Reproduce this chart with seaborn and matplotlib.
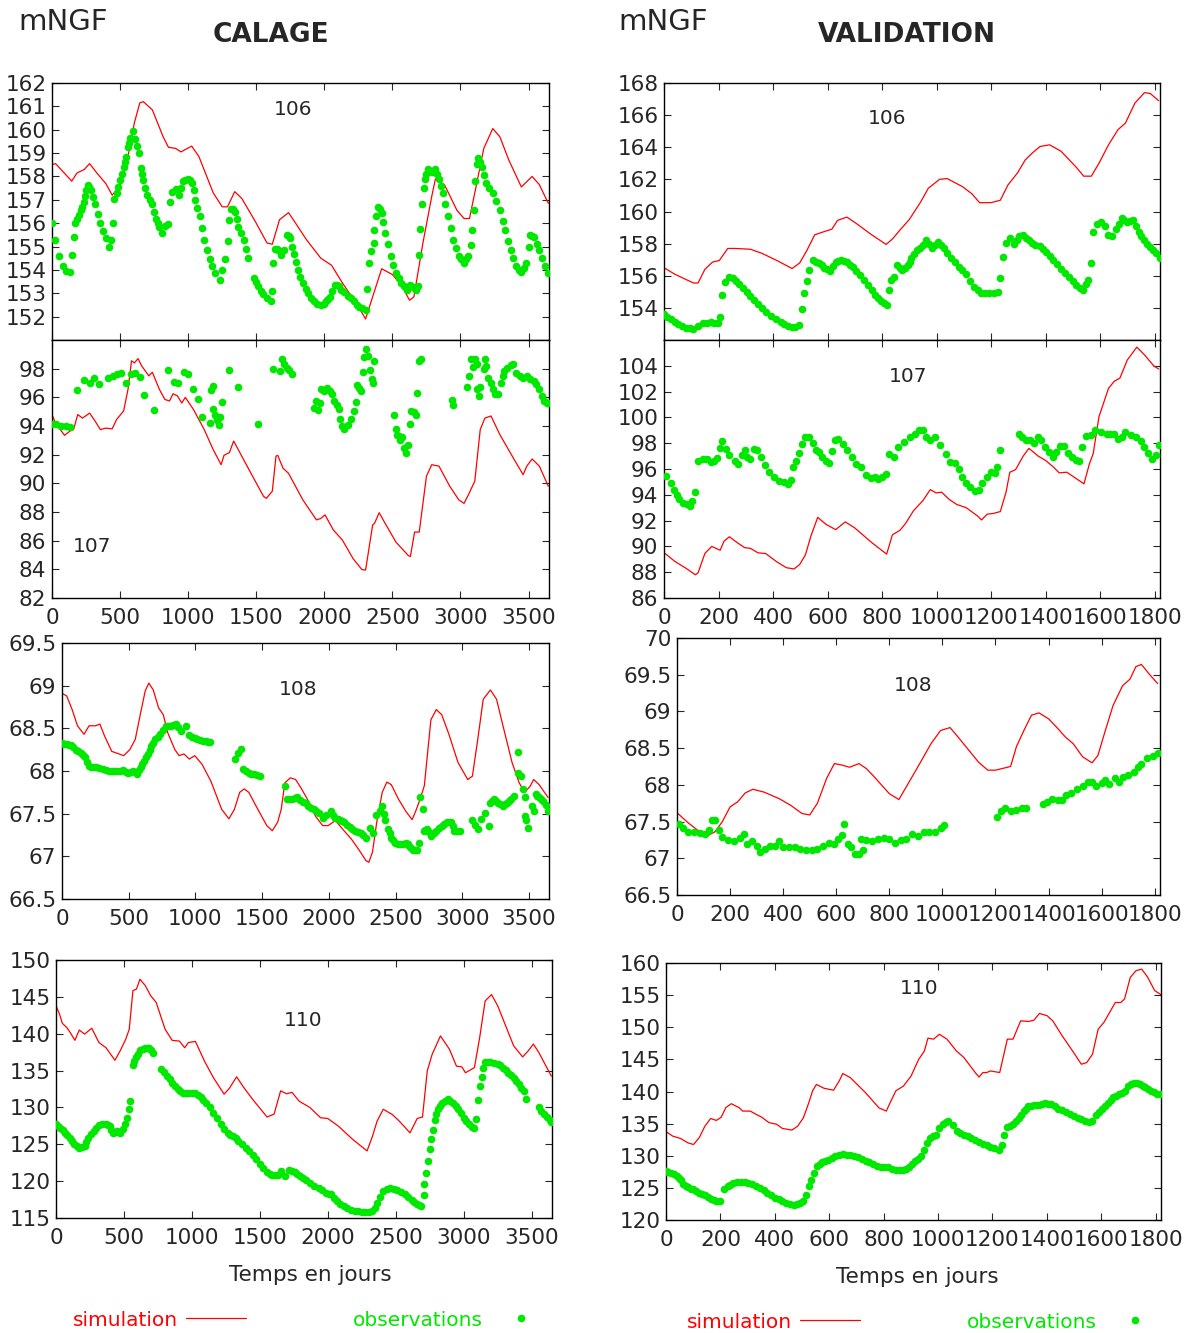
import matplotlib
matplotlib.use("Agg")
import matplotlib.pyplot as plt
from matplotlib.lines import Line2D
import seaborn as sns

RED = "#ff0000"
GREEN = "#00e800"

# ---- CALAGE (0 - 3650 days) ----
cal106_sim = [(0, 158.5), (26, 158.55), (145, 157.8), (184, 158.15), (237, 158.3), (276, 158.55), (329, 158.15),
              (395, 157.7), (442, 157.2), (500, 157.6), (553, 158.7), (605, 160.3), (645, 161.15), (671, 161.2),
              (737, 160.85), (816, 159.7), (855, 159.25), (908, 159.2), (947, 159.05), (1026, 159.3), (1079, 158.85),
              (1184, 157.3), (1250, 156.7), (1289, 156.7), (1342, 157.35), (1395, 157.05), (1500, 156.0),
              (1579, 155.15), (1618, 155.1), (1671, 156.15), (1737, 156.45), (1789, 156.0), (1868, 155.3),
              (1974, 154.5), (2053, 154.2), (2132, 153.45), (2237, 152.55), (2303, 151.9), (2355, 152.85),
              (2421, 154.05), (2500, 153.8), (2566, 153.35), (2626, 152.7), (2658, 152.85), (2724, 155.15),
              (2789, 157.15), (2816, 157.9), (2882, 157.65), (2974, 156.55), (3026, 156.2), (3066, 156.2),
              (3105, 157.3), (3171, 159.2), (3237, 160.05), (3289, 159.7), (3355, 158.7), (3447, 157.55),
              (3526, 158.0), (3579, 157.65), (3645, 156.85)]
cal106_obs = [(0, 156.0), (21, 155.3), (53, 154.6), (79, 154.15), (105, 153.95), (132, 153.9),
              (145, 154.65), (158, 155.4), (166, 156.0), (184, 156.2), (197, 156.35), (211, 156.55), (222, 156.7),
              (232, 156.9), (241, 157.15), (250, 157.4), (263, 157.65), (274, 157.55), (284, 157.4), (300, 157.1),
              (316, 156.8), (335, 156.4), (355, 156.0), (375, 155.65), (395, 155.35), (421, 155.0), (434, 155.3),
              (447, 156.0), (453, 157.05), (474, 157.3), (487, 157.55), (500, 157.85), (513, 158.1), (526, 158.4),
              (537, 158.6), (547, 158.85), (558, 159.25), (566, 159.45), (574, 159.65), (592, 159.95), (611, 159.6),
              (624, 159.3), (637, 159.0), (653, 158.35), (662, 158.1), (671, 157.85), (684, 157.5), (697, 157.2),
              (718, 157.0), (737, 156.8), (750, 156.5), (763, 156.2), (776, 156.0), (789, 155.85), (811, 155.6),
              (829, 155.9), (855, 155.95), (863, 156.9), (882, 157.35), (908, 157.45), (934, 157.2), (948, 157.5),
              (961, 157.8), (980, 157.85), (1000, 157.9), (1013, 157.85), (1026, 157.7), (1040, 157.4),
              (1053, 157.0), (1068, 156.65), (1084, 156.3), (1100, 155.8), (1118, 155.3), (1138, 154.85),
              (1158, 154.45), (1178, 154.15), (1197, 153.85), (1232, 153.55), (1250, 154.0), (1268, 154.45),
              (1289, 155.25), (1303, 156.15), (1316, 156.6), (1329, 156.6), (1342, 156.5), (1355, 156.2),
              (1368, 155.85), (1388, 155.6), (1408, 155.3), (1425, 154.9), (1442, 154.5),
              (1482, 153.65), (1497, 153.5), (1513, 153.3), (1533, 153.1), (1553, 152.95), (1580, 152.8),
              (1605, 152.65), (1618, 153.1), (1626, 154.3), (1637, 154.9), (1650, 154.9), (1663, 154.85),
              (1684, 154.65), (1705, 154.85), (1724, 155.5), (1737, 155.45), (1750, 155.35), (1763, 155.0),
              (1776, 154.7), (1790, 154.35), (1803, 154.0), (1822, 153.7), (1842, 153.45), (1862, 153.2),
              (1882, 153.0), (1900, 152.8), (1921, 152.65), (1947, 152.55), (1974, 152.5), (1994, 152.55),
              (2013, 152.65), (2026, 152.75), (2039, 152.85), (2059, 153.1), (2079, 153.35), (2092, 153.35),
              (2105, 153.3), (2125, 153.15), (2145, 153.05), (2171, 152.9), (2197, 152.8), (2217, 152.65),
              (2237, 152.5), (2256, 152.4), (2276, 152.35), (2303, 152.3), (2316, 153.2), (2329, 154.3),
              (2342, 154.8), (2363, 155.15), (2368, 155.7), (2382, 156.3), (2395, 156.7), (2408, 156.6),
              (2421, 156.45), (2434, 156.05), (2447, 155.6), (2467, 155.1), (2487, 154.6), (2506, 154.2),
              (2526, 153.85), (2546, 153.65), (2566, 153.45), (2585, 153.3), (2605, 153.15), (2632, 153.35),
              (2650, 153.25), (2671, 153.15), (2689, 153.3), (2697, 154.65), (2705, 155.75), (2716, 156.8),
              (2729, 157.5), (2737, 157.9), (2750, 158.1), (2763, 158.3), (2776, 158.25), (2789, 158.2),
              (2803, 158.25), (2816, 158.3), (2829, 158.1), (2842, 157.9), (2855, 157.6), (2868, 157.3),
              (2888, 156.8), (2908, 156.3), (2928, 155.8), (2947, 155.3), (2967, 154.95), (2987, 154.6),
              (3006, 154.45), (3026, 154.3), (3042, 154.45), (3058, 154.6), (3079, 155.05), (3084, 155.7),
              (3097, 156.55), (3105, 157.8), (3118, 158.55), (3132, 158.8), (3145, 158.6), (3158, 158.4),
              (3171, 158.05), (3184, 157.7), (3210, 157.5), (3237, 157.3), (3263, 156.95), (3289, 156.55),
              (3309, 156.1), (3329, 155.7), (3349, 155.25), (3368, 154.85), (3388, 154.5), (3408, 154.15),
              (3428, 154.0), (3447, 153.9), (3463, 154.1), (3479, 154.3), (3500, 155.0), (3513, 155.5),
              (3526, 155.45), (3539, 155.4), (3559, 155.1), (3579, 154.85), (3598, 154.5), (3618, 154.15),
              (3645, 153.85)]

cal107_sim = [(0, 94.8), (26, 94.2), (92, 93.35), (132, 93.65), (158, 93.75), (189, 94.8), (224, 94.55),
              (276, 94.9), (316, 94.35), (355, 93.75), (395, 93.85), (442, 93.8), (474, 94.45), (526, 95.05),
              (558, 96.55), (584, 98.55), (605, 98.4), (632, 98.7), (658, 98.2), (711, 97.5), (737, 97.75),
              (789, 96.55), (829, 95.85), (863, 95.75), (889, 96.25), (921, 96.1), (953, 95.6), (979, 96.0),
              (1039, 95.15), (1118, 93.75), (1184, 92.35), (1242, 91.3), (1263, 91.95), (1303, 92.15),
              (1334, 92.95), (1382, 92.1), (1447, 90.95), (1553, 89.1), (1574, 88.95), (1618, 89.45),
              (1645, 91.9), (1658, 91.95), (1697, 91.05), (1737, 90.7), (1842, 88.85), (1942, 87.45),
              (1974, 87.55), (2005, 87.8), (2066, 86.75), (2132, 86.05), (2211, 84.75), (2276, 83.98),
              (2303, 83.95), (2355, 87.1), (2368, 87.2), (2403, 87.95), (2447, 87.2), (2526, 85.9),
              (2618, 84.95), (2632, 84.9), (2663, 86.6), (2697, 86.6), (2750, 90.5), (2789, 91.3),
              (2842, 91.2), (2921, 89.8), (2987, 88.85), (3026, 88.6), (3058, 89.2), (3105, 90.15),
              (3145, 93.75), (3179, 94.55), (3224, 94.7), (3289, 93.4), (3395, 91.65), (3460, 90.6),
              (3487, 91.2), (3526, 91.7), (3579, 91.2), (3645, 89.8)]
cal107_obs = [(0, 94.15), (26, 94.15), (66, 94.0), (100, 94.0), (132, 93.95), (184, 96.5), (232, 97.2),
              (276, 97.0), (311, 97.35), (347, 96.95), (408, 97.35), (447, 97.5), (479, 97.6), (505, 97.7),
              (545, 97.0), (579, 97.65), (613, 97.7), (645, 97.45), (674, 96.15), (750, 95.15), (855, 97.9),
              (895, 97.1), (929, 97.0), (966, 97.8), (1000, 97.6), (1039, 96.6), (1074, 95.9), (1105, 94.65),
              (1158, 94.2), (1166, 96.5), (1179, 96.8), (1184, 95.2), (1197, 94.8), (1211, 94.45), (1224, 94.05),
              (1237, 94.65), (1245, 95.65), (1303, 97.9), (1363, 96.7), (1513, 94.15), (1626, 97.95),
              (1671, 97.85), (1689, 98.65), (1705, 98.3), (1724, 98.05), (1742, 97.9), (1763, 97.65),
              (1926, 95.25), (1939, 95.75), (1953, 95.15), (1966, 95.6), (1974, 96.6), (2000, 96.45),
              (2021, 96.65), (2039, 96.45), (2058, 96.2), (2074, 95.75), (2092, 95.5), (2105, 95.2),
              (2118, 94.5), (2132, 94.0), (2145, 93.8), (2171, 94.1), (2197, 94.5), (2216, 95.05), (2229, 95.65),
              (2237, 96.85), (2258, 96.65), (2271, 96.45), (2284, 97.8), (2295, 98.8), (2308, 99.35),
              (2321, 98.9), (2334, 97.9), (2347, 97.25), (2355, 97.0), (2363, 98.55),
              (2513, 94.75), (2526, 93.8), (2534, 93.4), (2547, 93.3), (2558, 93.05), (2574, 93.25),
              (2587, 92.45), (2597, 92.1), (2613, 92.7), (2626, 94.15), (2639, 95.05), (2658, 95.0),
              (2676, 94.75), (2684, 96.3), (2697, 98.55), (2711, 98.7), (2934, 95.8), (2947, 95.45),
              (3047, 96.75), (3066, 97.5), (3074, 98.65), (3092, 98.1), (3105, 98.65), (3118, 98.35),
              (3124, 96.6), (3137, 96.1), (3145, 96.7), (3171, 98.0), (3179, 98.7), (3189, 98.2), (3205, 97.35),
              (3224, 97.0), (3242, 96.55), (3253, 96.2), (3276, 96.25), (3295, 97.0), (3311, 97.5),
              (3321, 97.85), (3342, 98.05), (3368, 98.25), (3389, 98.3), (3408, 97.7), (3434, 97.5),
              (3460, 97.35), (3487, 97.5), (3513, 97.3), (3539, 97.15), (3558, 96.9), (3579, 96.55),
              (3600, 96.1), (3611, 95.75), (3632, 95.6), (3645, 95.6)]

cal108_sim = [(0, 68.91), (35, 68.88), (76, 68.72), (116, 68.53), (165, 68.43), (203, 68.53), (251, 68.53),
              (284, 68.55), (319, 68.41), (373, 68.23), (427, 68.2), (462, 68.18), (508, 68.25), (549, 68.37),
              (589, 68.68), (624, 68.94), (651, 69.03), (684, 68.95), (724, 68.74), (759, 68.66), (792, 68.45),
              (846, 68.25), (878, 68.18), (914, 68.2), (954, 68.14), (995, 68.18), (1049, 68.08), (1116, 67.88),
              (1197, 67.55), (1251, 67.44), (1292, 67.55), (1332, 67.75), (1365, 67.79), (1400, 67.75),
              (1468, 67.55), (1535, 67.36), (1576, 67.3), (1616, 67.4), (1643, 67.55), (1670, 67.86),
              (1711, 67.92), (1751, 67.9), (1792, 67.8), (1846, 67.65), (1900, 67.47), (1954, 67.36),
              (1995, 67.36), (2049, 67.42), (2103, 67.32), (2170, 67.2), (2224, 67.08), (2278, 66.95),
              (2300, 66.93), (2327, 67.05), (2359, 67.4), (2400, 67.75), (2435, 67.87), (2468, 67.84),
              (2522, 67.67), (2576, 67.53), (2624, 67.43), (2651, 67.53), (2684, 67.67), (2716, 67.83),
              (2738, 68.18), (2765, 68.6), (2805, 68.72), (2846, 68.66), (2900, 68.43), (2968, 68.1),
              (3041, 67.9), (3076, 67.94), (3116, 68.37), (3157, 68.84), (3211, 68.95), (3257, 68.84),
              (3305, 68.53), (3373, 68.1), (3427, 67.86), (3468, 67.75), (3508, 67.82), (3535, 67.9),
              (3576, 67.84), (3616, 67.75), (3643, 67.69)]
cal108_obs = [(0, 68.33), (18, 68.32), (35, 68.32), (52, 68.31), (68, 68.31), (86, 68.28), (103, 68.25),
              (123, 68.23), (143, 68.21), (157, 68.19), (170, 68.16), (186, 68.1), (203, 68.06), (220, 68.05),
              (238, 68.05), (258, 68.05), (278, 68.04), (305, 68.02), (332, 68.01), (352, 68.0), (373, 68.0),
              (394, 68.0), (414, 68.0), (437, 68.0), (459, 68.01), (477, 67.99), (495, 67.98), (515, 67.99),
              (535, 68.0), (562, 67.97), (575, 68.01), (589, 68.05), (603, 68.08), (616, 68.12), (630, 68.16),
              (643, 68.2), (657, 68.25), (670, 68.29), (684, 68.33), (697, 68.37), (717, 68.4), (738, 68.43),
              (758, 68.48), (778, 68.53), (799, 68.53), (819, 68.53), (835, 68.54), (851, 68.55), (873, 68.51),
              (895, 68.47), (932, 68.53), (954, 68.42), (975, 68.4), (995, 68.39), (1015, 68.37),
              (1035, 68.36), (1056, 68.35), (1076, 68.35), (1092, 68.34), (1108, 68.34),
              (1300, 68.14), (1319, 68.21), (1341, 68.26), (1359, 68.02), (1380, 68.0), (1400, 67.98),
              (1420, 67.97), (1441, 67.96), (1461, 67.95), (1481, 67.94),
              (1670, 67.82), (1684, 67.67), (1704, 67.67), (1724, 67.67), (1745, 67.68), (1765, 67.69),
              (1785, 67.66), (1805, 67.64), (1826, 67.62), (1846, 67.59), (1866, 67.57), (1886, 67.55),
              (1907, 67.53), (1927, 67.51), (1954, 67.45), (1981, 67.49), (2014, 67.53), (2031, 67.49),
              (2049, 67.45), (2066, 67.44), (2084, 67.42), (2100, 67.41), (2116, 67.4), (2137, 67.37),
              (2157, 67.34), (2177, 67.32), (2197, 67.3), (2218, 67.28), (2238, 67.27), (2258, 67.25),
              (2278, 67.22), (2305, 67.33), (2332, 67.27), (2354, 67.49), (2381, 67.53), (2400, 67.59),
              (2411, 67.5), (2422, 67.43), (2441, 67.32), (2455, 67.27), (2468, 67.22), (2482, 67.19),
              (2495, 67.16), (2515, 67.15), (2535, 67.14), (2556, 67.15), (2576, 67.16), (2590, 67.14),
              (2603, 67.12), (2616, 67.1), (2630, 67.08), (2644, 67.07), (2657, 67.07), (2676, 67.16),
              (2684, 67.69), (2703, 67.55), (2711, 67.3), (2724, 67.31), (2738, 67.32), (2751, 67.28),
              (2765, 67.24), (2785, 67.27), (2805, 67.3), (2826, 67.33), (2846, 67.36), (2866, 67.38),
              (2886, 67.4), (2900, 67.4), (2914, 67.4), (2927, 67.35), (2941, 67.3), (2961, 67.3),
              (2981, 67.3), (3076, 67.42), (3096, 67.37), (3116, 67.32), (3143, 67.44), (3170, 67.51),
              (3197, 67.36), (3211, 67.63), (3224, 67.65), (3238, 67.67), (3251, 67.65), (3265, 67.63),
              (3285, 67.61), (3305, 67.59), (3319, 67.61), (3332, 67.63), (3349, 67.65), (3365, 67.67),
              (3386, 67.71), (3414, 68.22), (3419, 67.98), (3441, 67.94), (3454, 67.79), (3468, 67.69),
              (3473, 67.47), (3481, 67.43), (3495, 67.33), (3522, 67.59), (3535, 67.53), (3549, 67.73),
              (3562, 67.71), (3576, 67.69), (3590, 67.67), (3603, 67.65), (3624, 67.6), (3643, 67.53)]

cal110_sim = [(0, 143.8), (26, 142.65), (47, 141.4), (79, 140.85), (105, 140.15), (139, 139.1), (171, 140.5),
              (211, 139.95), (263, 140.75), (316, 138.8), (368, 138.1), (434, 136.4), (474, 137.75),
              (513, 139.25), (539, 140.6), (566, 145.85), (592, 146.05), (618, 147.4), (658, 146.5),
              (697, 145.15), (737, 144.25), (803, 140.6), (855, 139.1), (908, 139.0), (947, 138.1),
              (974, 138.8), (1026, 138.95), (1092, 136.3), (1158, 134.05), (1237, 131.8), (1276, 132.6),
              (1329, 134.15), (1382, 132.7), (1447, 131.1), (1553, 128.7), (1605, 129.1), (1653, 132.25),
              (1697, 131.85), (1737, 132.05), (1789, 130.85), (1868, 130.0), (1947, 128.6), (2000, 128.5),
              (2079, 127.45), (2184, 125.65), (2289, 124.1), (2329, 126.1), (2363, 128.15), (2408, 129.75),
              (2474, 129.05), (2526, 128.15), (2605, 126.55), (2658, 128.5), (2697, 128.7), (2732, 134.95),
              (2768, 137.2), (2829, 139.7), (2895, 137.9), (2947, 135.6), (2987, 135.5), (3013, 134.7),
              (3079, 135.4), (3118, 139.5), (3158, 144.45), (3205, 145.3), (3250, 143.8), (3329, 140.15),
              (3368, 138.35), (3434, 136.85), (3474, 137.65), (3513, 138.6), (3553, 137.45), (3645, 134.25)]
cal110_obs = [(0, 127.7), (16, 127.5), (32, 127.25), (49, 126.9), (66, 126.55), (83, 126.2), (100, 125.9),
              (116, 125.5), (132, 125.1), (151, 124.8), (171, 124.5), (191, 124.6), (211, 124.75), (224, 125.3),
              (237, 125.9), (256, 126.35), (276, 126.8), (296, 127.2), (316, 127.6), (342, 127.7), (368, 127.7),
              (382, 127.6), (395, 127.45), (408, 127.0), (421, 126.55), (434, 126.7), (447, 126.8), (461, 126.7),
              (474, 126.55), (490, 127.1), (505, 127.7), (521, 128.6), (534, 129.8), (545, 130.85),
              (566, 135.75), (576, 136.3), (587, 136.85), (603, 137.3), (618, 137.75), (638, 137.9), (658, 138.1),
              (671, 138.1), (684, 138.1), (697, 137.8), (711, 137.45),
              (776, 135.2), (796, 134.75), (816, 134.3), (836, 133.8), (855, 133.35), (875, 132.9),
              (895, 132.5), (915, 132.25), (934, 132.0), (954, 131.95), (974, 131.9), (1000, 131.9),
              (1026, 131.9), (1046, 131.65), (1066, 131.4), (1085, 131.05), (1105, 130.65), (1132, 130.0),
              (1158, 129.3), (1184, 128.5), (1211, 127.7), (1237, 127.1), (1263, 126.55), (1283, 126.3),
              (1303, 126.1), (1322, 125.8), (1342, 125.45), (1368, 125.0), (1395, 124.5), (1421, 124.05),
              (1447, 123.6), (1474, 123.0), (1500, 122.35), (1526, 121.75), (1553, 121.2), (1572, 121.0),
              (1592, 120.9), (1612, 120.9), (1632, 120.9), (1658, 121.35), (1684, 120.7), (1711, 121.55),
              (1737, 121.35), (1756, 121.2), (1776, 121.0), (1796, 120.75), (1816, 120.45), (1842, 120.1),
              (1868, 119.75), (1901, 119.4), (1934, 119.1), (1960, 118.75), (1987, 118.4), (2006, 118.3),
              (2026, 118.2), (2046, 117.7), (2066, 117.25), (2092, 116.9), (2118, 116.6), (2145, 116.35),
              (2171, 116.15), (2197, 116.0), (2224, 115.9), (2250, 115.85), (2276, 115.8), (2303, 115.85),
              (2329, 115.9), (2346, 116.4), (2363, 117.05), (2386, 117.9), (2408, 118.65), (2434, 118.9),
              (2461, 119.1), (2487, 119.0), (2513, 118.85), (2540, 118.55), (2566, 118.2), (2592, 117.85),
              (2618, 117.5), (2638, 117.2), (2658, 116.9), (2674, 116.75), (2689, 116.6), (2705, 118.1),
              (2711, 119.6), (2724, 121.1), (2737, 122.7), (2750, 124.3), (2763, 125.65), (2776, 127.0),
              (2789, 128.35), (2800, 129.1), (2811, 129.75), (2826, 130.2), (2842, 130.65), (2862, 130.9),
              (2882, 131.1), (2901, 130.9), (2921, 130.65), (2941, 130.2), (2961, 129.75), (2980, 129.2),
              (3000, 128.6), (3020, 128.15), (3039, 127.7), (3059, 127.4), (3079, 127.15), (3092, 128.4),
              (3105, 130.95), (3118, 132.9), (3132, 134.15), (3145, 135.3), (3158, 136.2), (3178, 136.15),
              (3197, 136.1), (3224, 136.0), (3250, 135.95), (3270, 135.7), (3289, 135.4), (3309, 135.05),
              (3329, 134.7), (3349, 134.4), (3368, 134.05), (3388, 133.6), (3408, 133.2), (3425, 132.7),
              (3442, 132.2), (3461, 131.2), (3553, 130.05), (3572, 129.55), (3592, 129.05), (3612, 128.65),
              (3632, 128.25), (3645, 128.05)]

# ---- VALIDATION (0 - 1820 days) ----
val106_sim = [(0, 156.5), (39, 156.1), (108, 155.55), (125, 155.55), (150, 156.4), (178, 156.85), (203, 156.95),
              (234, 157.7), (261, 157.7), (317, 157.65), (359, 157.4), (414, 156.95), (470, 156.45),
              (498, 156.8), (525, 157.6), (553, 158.55), (588, 158.75), (616, 158.9), (637, 159.45),
              (671, 159.65), (706, 159.25), (762, 158.55), (815, 157.95), (839, 158.3), (866, 158.85),
              (900, 159.5), (942, 160.6), (970, 161.45), (1011, 162.0), (1039, 162.05), (1095, 161.55),
              (1130, 161.1), (1158, 160.55), (1200, 160.55), (1234, 160.7), (1262, 161.65), (1297, 162.4),
              (1325, 163.2), (1352, 163.65), (1380, 164.05), (1415, 164.15), (1457, 163.75), (1513, 162.75),
              (1540, 162.2), (1568, 162.2), (1596, 163.0), (1631, 164.15), (1666, 165.1), (1693, 165.5),
              (1728, 166.75), (1763, 167.4), (1784, 167.35), (1815, 166.9)]
val106_obs = [(0, 153.6), (12, 153.45), (25, 153.3), (39, 153.15), (53, 153.0), (67, 152.87), (81, 152.75),
              (95, 152.72), (108, 152.7), (125, 152.9), (143, 153.05), (157, 153.08), (171, 153.1),
              (185, 153.08), (199, 153.05), (206, 153.45), (214, 154.8), (224, 155.6), (240, 155.95),
              (254, 155.85), (265, 155.68), (275, 155.5), (289, 155.25), (303, 155.0), (317, 154.75),
              (331, 154.5), (345, 154.25), (359, 154.0), (376, 153.75), (393, 153.5), (410, 153.3),
              (428, 153.1), (442, 152.97), (456, 152.85), (468, 152.82), (481, 152.8), (495, 152.95),
              (505, 153.9), (514, 154.95), (523, 155.7), (532, 156.35), (546, 156.95), (557, 156.88),
              (567, 156.8), (578, 156.65), (588, 156.5), (599, 156.4), (609, 156.3), (620, 156.58),
              (630, 156.85), (640, 156.93), (651, 157.0), (661, 156.93), (671, 156.85), (682, 156.7),
              (692, 156.55), (706, 156.3), (720, 156.05), (734, 155.73), (748, 155.4), (762, 155.1),
              (776, 154.8), (786, 154.6), (796, 154.4), (806, 154.3), (817, 154.2),
              (824, 155.1), (834, 155.75), (845, 155.95), (856, 156.65), (866, 156.5), (873, 156.35),
              (884, 156.5), (894, 156.65), (901, 156.88), (908, 157.1), (918, 157.35), (929, 157.6),
              (940, 157.75), (950, 157.9), (963, 158.2), (974, 157.98), (984, 157.75), (995, 157.93),
              (1005, 158.1), (1016, 157.9), (1026, 157.7), (1040, 157.4), (1054, 157.1), (1068, 156.83),
              (1082, 156.55), (1095, 156.33), (1109, 156.1), (1123, 155.7), (1137, 155.3), (1151, 155.12),
              (1165, 154.95), (1179, 154.92), (1193, 154.9), (1210, 154.95), (1227, 155.0),
              (1234, 155.85), (1245, 157.15), (1255, 158.05), (1269, 158.35), (1283, 158.0), (1294, 158.22),
              (1304, 158.45), (1318, 158.55), (1329, 158.38), (1339, 158.2), (1350, 158.05), (1360, 157.9),
              (1381, 157.85), (1392, 157.68), (1402, 157.5), (1416, 157.25), (1429, 157.0), (1443, 156.73),
              (1457, 156.45), (1471, 156.18), (1485, 155.9), (1499, 155.65), (1513, 155.4), (1526, 155.25),
              (1538, 155.1), (1547, 155.5), (1554, 155.75), (1565, 156.8),
              (1575, 158.75), (1589, 159.25), (1603, 159.35), (1617, 159.1), (1631, 158.55), (1645, 158.5),
              (1659, 158.9), (1669, 159.25), (1679, 159.6), (1689, 159.48), (1700, 159.35), (1710, 159.4),
              (1721, 159.45), (1731, 159.1), (1742, 158.75), (1752, 158.48), (1763, 158.2), (1773, 158.0),
              (1784, 157.8), (1794, 157.6), (1805, 157.4), (1819, 157.1)]

val107_sim = [(4, 89.45), (39, 88.85), (81, 88.3), (115, 87.8), (125, 87.95), (150, 89.45), (175, 90.0),
              (206, 89.7), (220, 90.4), (240, 90.75), (268, 90.3), (296, 89.9), (317, 89.85), (345, 89.5),
              (373, 89.45), (414, 88.8), (449, 88.35), (477, 88.25), (498, 88.6), (519, 89.35), (539, 90.8),
              (564, 92.25), (595, 91.7), (630, 91.3), (665, 91.9), (699, 91.45), (762, 90.3), (817, 89.4),
              (838, 90.9), (866, 91.25), (887, 91.8), (915, 92.75), (950, 93.55), (977, 94.4), (998, 94.15),
              (1019, 94.2), (1046, 93.65), (1074, 93.25), (1109, 93.0), (1151, 92.35), (1165, 92.05),
              (1186, 92.5), (1207, 92.55), (1234, 92.7), (1255, 94.2), (1269, 95.75), (1290, 95.95),
              (1318, 97.0), (1339, 97.6), (1373, 97.0), (1401, 96.65), (1429, 96.15), (1450, 95.7),
              (1478, 95.75), (1506, 95.35), (1541, 94.85), (1561, 96.4), (1575, 97.2), (1596, 100.05),
              (1631, 102.25), (1652, 102.8), (1673, 103.05), (1700, 104.45), (1735, 105.45), (1763, 104.85),
              (1797, 104.0), (1815, 103.75)]
val107_obs = [(8, 95.45), (25, 94.9), (36, 94.4), (46, 94.0), (56, 93.65), (70, 93.4), (83, 93.25),
              (97, 93.15), (104, 93.55), (114, 94.2), (125, 96.6), (143, 96.8), (157, 96.8), (171, 96.55),
              (182, 96.6), (195, 96.85), (206, 97.65), (213, 98.2), (227, 97.55), (240, 97.05), (259, 96.65),
              (272, 96.4), (286, 97.1), (296, 97.45), (306, 96.95), (317, 96.8), (331, 97.55), (342, 97.5),
              (356, 96.95), (370, 96.3), (386, 95.75), (403, 95.35), (421, 95.05), (442, 95.0), (456, 94.8),
              (467, 95.15), (473, 96.15), (484, 96.65), (495, 97.25), (505, 97.95), (518, 98.45), (532, 98.5),
              (546, 98.05), (556, 97.5), (570, 97.3), (581, 96.9), (595, 96.6), (606, 96.45), (616, 97.4),
              (626, 98.25), (639, 98.3), (657, 97.9), (671, 97.5), (689, 96.95), (706, 96.35), (723, 96.15),
              (741, 95.55), (759, 95.3), (776, 95.4), (787, 95.2), (801, 95.4), (813, 95.6),
              (824, 97.15), (845, 96.95), (859, 97.7), (880, 98.1), (901, 98.5), (922, 98.7), (935, 99.05),
              (949, 99.05), (963, 98.5), (977, 98.25), (995, 98.5), (1012, 97.85), (1033, 97.15),
              (1051, 96.55), (1067, 96.45), (1084, 96.0), (1095, 95.35), (1109, 94.9), (1123, 94.6),
              (1140, 94.3), (1155, 94.4), (1168, 94.95), (1186, 95.35), (1200, 95.75), (1213, 95.7),
              (1223, 96.15), (1234, 97.5),
              (1301, 98.7), (1315, 98.45), (1329, 98.25), (1343, 98.25), (1357, 98.0), (1371, 98.5),
              (1385, 98.25), (1398, 97.7), (1412, 97.3), (1426, 96.9), (1440, 97.3), (1454, 97.8),
              (1468, 97.75), (1482, 97.25), (1496, 96.95), (1510, 96.7), (1524, 96.6),
              (1533, 97.7), (1547, 98.55), (1565, 98.6), (1582, 99.0), (1603, 98.9), (1624, 98.75),
              (1637, 98.7), (1651, 98.75), (1665, 98.35), (1679, 98.45), (1693, 98.85), (1714, 98.6),
              (1732, 98.5), (1749, 98.2), (1763, 97.7), (1777, 97.25), (1791, 96.8), (1805, 97.05),
              (1815, 97.85)]

val108_sim = [(0, 67.62), (43, 67.48), (86, 67.36), (121, 67.32), (143, 67.36), (171, 67.5), (200, 67.7),
              (229, 67.77), (257, 67.89), (286, 67.94), (329, 67.9), (386, 67.81), (429, 67.72), (471, 67.61),
              (500, 67.59), (529, 67.75), (564, 68.09), (593, 68.29), (621, 68.27), (650, 68.24), (686, 68.29),
              (714, 68.22), (743, 68.11), (800, 67.88), (836, 67.8), (857, 67.93), (886, 68.11), (921, 68.33),
              (957, 68.56), (993, 68.74), (1029, 68.78), (1057, 68.66), (1100, 68.47), (1136, 68.31),
              (1171, 68.2), (1200, 68.2), (1257, 68.25), (1279, 68.52), (1307, 68.74), (1336, 68.95),
              (1364, 68.98), (1400, 68.9), (1429, 68.79), (1464, 68.65), (1493, 68.56), (1529, 68.38),
              (1564, 68.3), (1586, 68.4), (1614, 68.74), (1643, 69.08), (1679, 69.35), (1707, 69.44),
              (1729, 69.61), (1750, 69.64), (1779, 69.51), (1811, 69.38)]
val108_obs = [(7, 67.47), (21, 67.41), (43, 67.36), (64, 67.36), (86, 67.35), (107, 67.33), (121, 67.39),
              (131, 67.52), (143, 67.52), (157, 67.38), (171, 67.29), (193, 67.25), (214, 67.23), (236, 67.27),
              (254, 67.33), (264, 67.2), (283, 67.23), (300, 67.17), (314, 67.09), (331, 67.12), (350, 67.17),
              (369, 67.17), (383, 67.24), (400, 67.15), (421, 67.15), (443, 67.15), (464, 67.12), (486, 67.11),
              (507, 67.11), (529, 67.12), (550, 67.17), (571, 67.21), (593, 67.2), (607, 67.26), (621, 67.32),
              (631, 67.47), (643, 67.2), (657, 67.16), (671, 67.06), (686, 67.06), (693, 67.26), (700, 67.11),
              (714, 67.25), (736, 67.24), (757, 67.26), (779, 67.27), (800, 67.26), (821, 67.21), (843, 67.25),
              (864, 67.26), (886, 67.33), (907, 67.3), (929, 67.36), (950, 67.36), (971, 67.36), (993, 67.41),
              (1007, 67.45),
              (1207, 67.56), (1221, 67.65), (1236, 67.68), (1257, 67.65), (1279, 67.66), (1300, 67.68),
              (1314, 67.68),
              (1379, 67.74), (1393, 67.77), (1414, 67.81), (1436, 67.8), (1450, 67.79), (1464, 67.86),
              (1486, 67.89), (1507, 67.95), (1529, 67.98), (1550, 68.04), (1564, 68.04), (1579, 67.99),
              (1600, 68.02), (1614, 68.06), (1629, 68.01), (1650, 68.09), (1664, 68.04), (1679, 68.11),
              (1700, 68.14), (1721, 68.18), (1736, 68.24), (1750, 68.29), (1771, 68.36), (1793, 68.39),
              (1814, 68.43)]

val110_sim = [(0, 133.75), (25, 133.05), (53, 132.7), (81, 132.0), (101, 131.75), (122, 132.8), (143, 134.6),
              (164, 135.8), (185, 135.5), (203, 136.0), (220, 137.5), (240, 138.1), (268, 137.5), (282, 136.95),
              (310, 136.95), (331, 136.45), (352, 136.0), (379, 135.15), (407, 134.9), (428, 134.25),
              (463, 134.0), (484, 134.6), (505, 135.9), (525, 138.25), (539, 140.1), (553, 141.1), (581, 140.5),
              (616, 140.2), (637, 141.65), (650, 142.8), (678, 142.15), (734, 139.8), (783, 137.45),
              (810, 136.95), (824, 138.25), (845, 140.1), (873, 140.85), (901, 142.4), (929, 145.0),
              (950, 146.3), (963, 148.3), (984, 148.15), (1005, 148.9), (1033, 148.15), (1068, 146.3),
              (1095, 145.3), (1137, 142.95), (1151, 142.25), (1165, 142.95), (1179, 142.95), (1193, 143.2),
              (1227, 142.95), (1255, 148.15), (1276, 148.15), (1304, 151.0), (1332, 150.9), (1353, 151.1),
              (1373, 152.15), (1401, 151.8), (1422, 151.0), (1457, 148.65), (1499, 146.05), (1527, 144.25),
              (1547, 144.5), (1568, 145.8), (1589, 149.7), (1610, 150.75), (1631, 152.3), (1652, 153.85),
              (1672, 153.85), (1686, 154.4), (1707, 157.75), (1728, 158.8), (1749, 159.05), (1770, 157.85),
              (1797, 155.7), (1821, 155.05)]
val110_obs = [(0, 127.7), (9, 127.5), (18, 127.35), (28, 127.1), (39, 126.8), (47, 126.55), (56, 126.3),
              (64, 125.6), (72, 125.35), (81, 125.1), (91, 124.9), (101, 124.75), (111, 124.5), (122, 124.2),
              (132, 124.0), (143, 123.85), (153, 123.55), (164, 123.3), (175, 123.1), (185, 122.9), (199, 122.9),
              (213, 124.75), (227, 125.25), (237, 125.5), (247, 125.8), (261, 125.9), (275, 125.95),
              (289, 125.9), (303, 125.8), (317, 125.55), (331, 125.25), (345, 124.95), (359, 124.6),
              (372, 124.25), (386, 123.85), (400, 123.5), (414, 123.2), (428, 122.9), (442, 122.65),
              (456, 122.5), (470, 122.4), (481, 122.5), (491, 122.65), (505, 123.0), (514, 123.95),
              (525, 125.25), (534, 126.3), (543, 127.35), (556, 128.35), (565, 128.7), (574, 129.05),
              (585, 129.25), (595, 129.4), (609, 129.7), (623, 129.95), (637, 130.1), (650, 130.2),
              (664, 130.15), (678, 130.1), (692, 129.95), (706, 129.8), (720, 129.5), (734, 129.25),
              (748, 128.95), (762, 128.65), (776, 128.4), (790, 128.2), (803, 128.2), (817, 128.2),
              (831, 128.0), (845, 127.85), (859, 127.85), (873, 127.85), (884, 128.0), (894, 128.2),
              (905, 128.65), (915, 129.15), (926, 129.55), (936, 129.95), (950, 130.95), (959, 132.0),
              (970, 132.8), (981, 133.05), (991, 133.3), (1005, 134.25), (1019, 135.0), (1028, 135.2),
              (1037, 135.4), (1054, 134.85), (1070, 133.85), (1082, 133.6), (1095, 133.3), (1109, 133.0),
              (1123, 132.7), (1137, 132.4), (1151, 132.15), (1165, 131.9), (1179, 131.65), (1193, 131.4),
              (1207, 131.15), (1223, 130.95), (1234, 131.75), (1244, 133.3), (1255, 134.45), (1265, 134.7),
              (1276, 135.0), (1287, 135.4), (1297, 135.8), (1306, 136.4), (1315, 136.95), (1323, 137.35),
              (1332, 137.75), (1343, 137.8), (1353, 137.85), (1363, 137.85), (1373, 137.85), (1384, 138.0),
              (1394, 138.15), (1405, 138.05), (1415, 138.0), (1429, 137.7), (1443, 137.35), (1457, 137.1),
              (1471, 136.8), (1485, 136.5), (1499, 136.2), (1513, 135.95), (1527, 135.65), (1541, 135.45),
              (1554, 135.3), (1568, 135.4), (1582, 136.35), (1592, 136.8), (1603, 137.2), (1614, 137.75),
              (1624, 138.25), (1635, 138.7), (1645, 139.15), (1656, 139.35), (1666, 139.55), (1676, 139.8),
              (1686, 140.05), (1700, 140.85), (1710, 141.15), (1721, 141.4), (1731, 141.25), (1742, 141.1),
              (1752, 140.9), (1763, 140.7), (1773, 140.4), (1784, 140.05), (1794, 139.85), (1805, 139.65),
              (1819, 139.55)]

cal_xticks = list(range(0, 3501, 500))
val_xticks = list(range(0, 1801, 200))

sns.set_style("ticks")
plt.rcParams['font.family'] = ['DejaVu Sans']
plt.rcParams.update({
    "xtick.direction": "in", "ytick.direction": "in",
    "xtick.top": True, "ytick.right": True,
    "xtick.major.size": 5, "ytick.major.size": 5,
    "xtick.major.width": 0.8, "ytick.major.width": 0.8,
    "axes.linewidth": 1.0, "axes.edgecolor": "black",
})

W, H = 1192, 1333
fig = plt.figure(figsize=(W / 100, H / 100), dpi=100)


def rect(x0, y0, x1, y1):
    return [x0 / W, 1 - y1 / H, (x1 - x0) / W, (y1 - y0) / H]


def panel(box, sim, obs, xlim, xticks, ylim, yticks, ylabels, name, name_pos, show_x=True):
    ax = fig.add_axes(rect(*box))
    sx, sy = zip(*sim)
    ox, oy = zip(*obs)
    sns.lineplot(x=list(sx), y=list(sy), ax=ax, color=RED, linewidth=0.9,
                 estimator=None, sort=False)
    sns.scatterplot(x=list(ox), y=list(oy), ax=ax, color=GREEN, s=30,
                    linewidth=0, zorder=3)
    ax.set_xlim(*xlim)
    ax.set_ylim(*ylim)
    ax.set_xticks(xticks)
    ax.set_yticks(yticks)
    ax.set_yticklabels(ylabels, fontsize=15.5)
    if show_x:
        ax.set_xticklabels([str(t) for t in xticks], fontsize=15.5)
    else:
        ax.set_xticklabels([])
    ax.tick_params(axis="x", pad=7)
    ax.tick_params(axis="y", pad=4)
    ax.text(name_pos[0], name_pos[1], name, transform=ax.transAxes,
            fontsize=14.5, ha="center", va="center")
    return ax


def fmt(vals):
    return [("%g" % v) for v in vals]


y106c = [152, 153, 154, 155, 156, 157, 158, 159, 160, 161, 162]
y107c = [82, 84, 86, 88, 90, 92, 94, 96, 98]
y108c = [66.5, 67, 67.5, 68, 68.5, 69, 69.5]
y110c = [115, 120, 125, 130, 135, 140, 145, 150]
y106v = [154, 156, 158, 160, 162, 164, 166, 168]
y107v = [86, 88, 90, 92, 94, 96, 98, 100, 102, 104]
y108v = [66.5, 67, 67.5, 68, 68.5, 69, 69.5, 70]
y110v = [120, 125, 130, 135, 140, 145, 150, 155, 160]

panel((52, 83, 549, 340), cal106_sim, cal106_obs, (0, 3650), cal_xticks, (151, 162), y106c, fmt(y106c),
      "106", (0.485, 0.895), show_x=False)
panel((52, 340, 549, 598), cal107_sim, cal107_obs, (0, 3650), cal_xticks, (82, 100), y107c, fmt(y107c),
      "107", (0.08, 0.2))
panel((62, 643, 549, 899), cal108_sim, cal108_obs, (0, 3650), cal_xticks, (66.5, 69.5), y108c, fmt(y108c),
      "108", (0.485, 0.82))
panel((56, 960, 552, 1218), cal110_sim, cal110_obs, (0, 3650), cal_xticks, (115, 150), y110c, fmt(y110c),
      "110", (0.498, 0.767))

panel((664, 83, 1160, 340), val106_sim, val106_obs, (0, 1820), val_xticks, (152, 168), y106v, fmt(y106v),
      "106", (0.449, 0.86), show_x=False)
panel((664, 340, 1160, 598), val107_sim, val107_obs, (0, 1820), val_xticks, (86, 106), y107v, fmt(y107v),
      "107", (0.492, 0.86))
panel((677, 638, 1160, 895), val108_sim, val108_obs, (0, 1820), val_xticks, (66.5, 70), y108v, fmt(y108v),
      "108", (0.489, 0.817))
panel((666, 963, 1161, 1220), val110_sim, val110_obs, (0, 1820), val_xticks, (120, 160), y110v, fmt(y110v),
      "110", (0.511, 0.9))

# headers
fig.text(18 / W, 1 - 22 / H, "mNGF", fontsize=21, ha="left", va="center")
fig.text(618 / W, 1 - 22 / H, "mNGF", fontsize=21, ha="left", va="center")
fig.text(271 / W, 1 - 35 / H, "CALAGE", fontsize=19, fontweight="bold", ha="center", va="center")
fig.text(907 / W, 1 - 35 / H, "VALIDATION", fontsize=19, fontweight="bold", ha="center", va="center")
fig.text(310 / W, 1 - 1275 / H, "Temps en jours", fontsize=15.5, ha="center", va="center")
fig.text(917 / W, 1 - 1277 / H, "Temps en jours", fontsize=15.5, ha="center", va="center")

# legends under each column
sim_handle = Line2D([], [], color=RED, linewidth=0.9)
obs_handle = Line2D([], [], color=GREEN, marker="o", linestyle="", markersize=4.5)
for cx, cy in [(312, 1320), (926, 1322)]:
    fig.legend(handles=[sim_handle, obs_handle], labels=["simulation", "observations"],
               loc="center", bbox_to_anchor=(cx / W, 1 - cy / H), ncol=2, frameon=False,
               markerfirst=False, fontsize=14.5, labelcolor=[RED, GREEN],
               handlelength=3.0, handletextpad=0.4, columnspacing=5.3)

fig.savefig("out.png", dpi=100)
